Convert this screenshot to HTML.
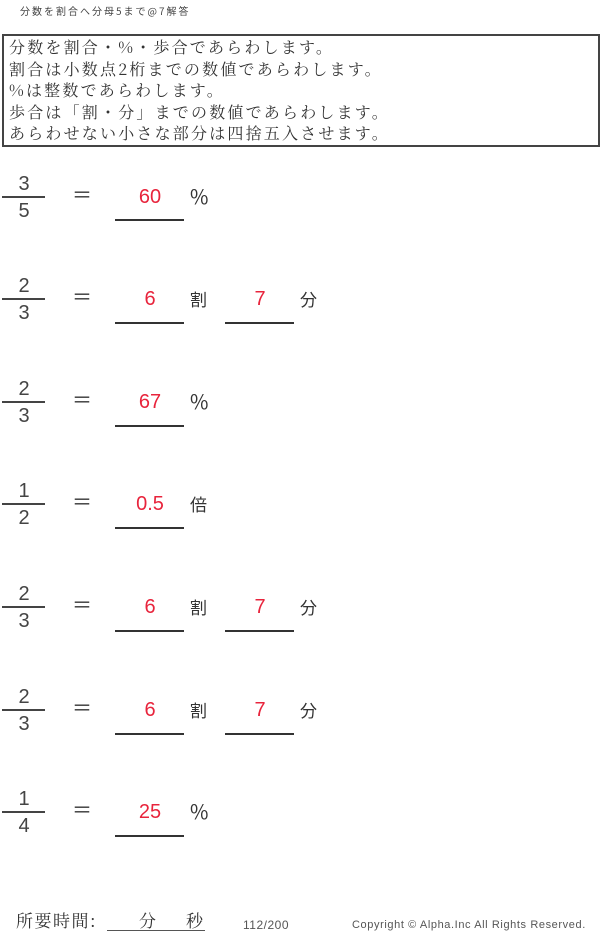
<!DOCTYPE html>
<html><head><meta charset="utf-8"><style>
body{margin:0;width:600px;height:938px;background:#fff;position:relative;font-family:"Liberation Sans","Noto Sans CJK JP",sans-serif;color:#333;overflow:hidden}
.a{position:absolute;white-space:nowrap}
.box{position:absolute;left:2px;top:34px;width:594px;height:109px;border:2px solid #444}
.box div{font-family:"Noto Serif CJK SC","Noto Sans CJK JP",serif;font-size:16px;letter-spacing:2.2px;line-height:21.6px;padding-left:5px;color:#333;white-space:nowrap}
.n{position:absolute;width:44px;left:2px;text-align:center;font-size:20px;line-height:20px;color:#444}
.fl{position:absolute;left:2px;width:43px;height:1.5px;background:#444}
.eq{position:absolute;left:72px;font-size:20px;line-height:20px}
.r{position:absolute;width:70px;text-align:center;color:#e8243c;font-size:20px;line-height:20px}
.u{position:absolute;height:1.5px;width:69px;background:#333}
.t{position:absolute;font-size:17px;line-height:20px;font-family:"Noto Sans CJK JP",sans-serif}
.p{font-size:20px}
.f{position:absolute;font-size:17px;line-height:20px;font-family:'Noto Serif CJK SC',serif;white-space:nowrap}
</style></head><body>
<div class="a" style="left:20px;top:3px;font-size:10px;letter-spacing:2px;font-family:'Noto Sans CJK JP',sans-serif;color:#444">分数を割合へ分母5まで@7解答</div>
<div class="box">
<div>分数を割合・%・歩合であらわします。</div>
<div>割合は小数点2桁までの数値であらわします。</div>
<div>%は整数であらわします。</div>
<div>歩合は「割・分」までの数値であらわします。</div>
<div>あらわせない小さな部分は四捨五入させます。</div>
</div>

<div class="n" style="top:174px">3</div><div class="fl" style="top:196px"></div><div class="n" style="top:201px">5</div>
<div class="eq" style="top:186px">＝</div>
<div class="r" style="left:115px;top:187px">60</div><div class="u" style="left:115px;top:219px"></div>
<div class="t p" style="left:190px;top:186px">%</div>

<div class="n" style="top:276px">2</div><div class="fl" style="top:298px"></div><div class="n" style="top:303px">3</div>
<div class="eq" style="top:288px">＝</div>
<div class="r" style="left:115px;top:289px">6</div><div class="u" style="left:115px;top:322px"></div>
<div class="t" style="left:190px;top:289px">割</div>
<div class="r" style="left:225px;top:289px">7</div><div class="u" style="left:225px;top:322px"></div>
<div class="t" style="left:300px;top:289px">分</div>

<div class="n" style="top:379px">2</div><div class="fl" style="top:401px"></div><div class="n" style="top:406px">3</div>
<div class="eq" style="top:391px">＝</div>
<div class="r" style="left:115px;top:392px">67</div><div class="u" style="left:115px;top:425px"></div>
<div class="t p" style="left:190px;top:391px">%</div>

<div class="n" style="top:481px">1</div><div class="fl" style="top:503px"></div><div class="n" style="top:508px">2</div>
<div class="eq" style="top:493px">＝</div>
<div class="r" style="left:115px;top:494px">0.5</div><div class="u" style="left:115px;top:527px"></div>
<div class="t" style="left:190px;top:494px">倍</div>

<div class="n" style="top:584px">2</div><div class="fl" style="top:606px"></div><div class="n" style="top:611px">3</div>
<div class="eq" style="top:596px">＝</div>
<div class="r" style="left:115px;top:597px">6</div><div class="u" style="left:115px;top:630px"></div>
<div class="t" style="left:190px;top:597px">割</div>
<div class="r" style="left:225px;top:597px">7</div><div class="u" style="left:225px;top:630px"></div>
<div class="t" style="left:300px;top:597px">分</div>

<div class="n" style="top:687px">2</div><div class="fl" style="top:709px"></div><div class="n" style="top:714px">3</div>
<div class="eq" style="top:699px">＝</div>
<div class="r" style="left:115px;top:700px">6</div><div class="u" style="left:115px;top:733px"></div>
<div class="t" style="left:190px;top:700px">割</div>
<div class="r" style="left:225px;top:700px">7</div><div class="u" style="left:225px;top:733px"></div>
<div class="t" style="left:300px;top:700px">分</div>

<div class="n" style="top:789px">1</div><div class="fl" style="top:811px"></div><div class="n" style="top:816px">4</div>
<div class="eq" style="top:801px">＝</div>
<div class="r" style="left:115px;top:802px">25</div><div class="u" style="left:115px;top:835px"></div>
<div class="t p" style="left:190px;top:801px">%</div>

<div class="f" style="left:16px;top:910px;letter-spacing:1.5px">所要時間:</div>
<div class="a" style="left:107px;top:930px;width:98px;height:1px;background:#555"></div>
<div class="f" style="left:139px;top:910px">分</div>
<div class="f" style="left:186px;top:910px">秒</div>
<div class="a" style="left:243px;top:918px;font-size:12px;letter-spacing:0.5px;color:#555">112/200</div>
<div class="a" style="left:352px;top:919px;font-size:11px;letter-spacing:0.6px;color:#555">Copyright ©  Alpha.Inc All Rights Reserved.</div>
</body></html>
